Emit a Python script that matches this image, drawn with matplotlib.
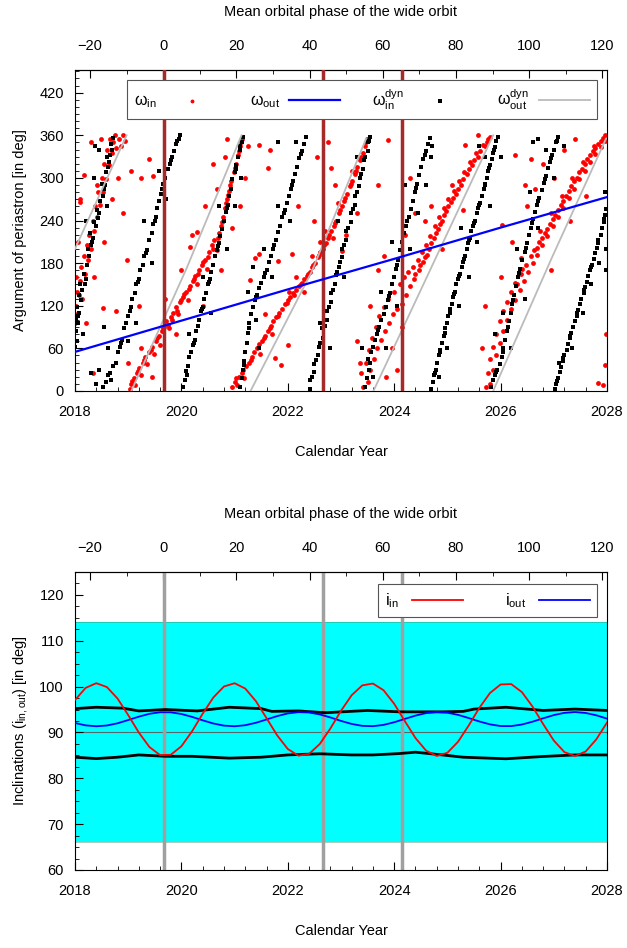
import numpy as np
import matplotlib
matplotlib.use("Agg")
import matplotlib.pyplot as plt
from matplotlib.ticker import MultipleLocator, FixedLocator

plt.rcParams['font.family'] = ['Liberation Sans', 'DejaVu Sans']
plt.rcParams['mathtext.fontset'] = 'custom'
plt.rcParams['mathtext.rm'] = 'Liberation Sans'
plt.rcParams['mathtext.it'] = 'Liberation Sans:italic'
plt.rcParams['font.size'] = 10.5

# ---------------- upper panel: arguments of periastron ----------------
# omega_in (red points), read band by band as (year, deg)
w_in_1 = [(2018.00, 95), (2018.01, 120), (2018.03, 140), (2018.02, 160), (2018.06, 110), (2018.08, 135),
          (2018.10, 155), (2018.12, 175), (2018.14, 130), (2018.17, 190), (2018.19, 165), (2018.22, 205),
          (2018.25, 185), (2018.27, 220), (2018.30, 200), (2018.33, 240), (2018.36, 225), (2018.38, 260),
          (2018.41, 245), (2018.44, 280), (2018.47, 262), (2018.50, 300), (2018.53, 280), (2018.55, 320),
          (2018.58, 298), (2018.60, 340), (2018.63, 318), (2018.66, 355), (2018.69, 335), (2018.72, 350),
          (2018.75, 360), (2018.78, 342), (2018.82, 355), (2018.86, 345), (2018.90, 360), (2018.94, 352),
          (2018.05, 210), (2018.10, 270), (2018.16, 304), (2018.20, 95), (2018.35, 160), (2018.55, 210),
          (2018.70, 270), (2018.80, 300), (2018.91, 250), (2018.97, 185), (2019.05, 310), (2019.25, 300),
          (2019.46, 302), (2019.40, 327), (2018.41, 290), (2018.09, 266), (2018.78, 112), (2018.53, 117),
          (2018.34, 25), (2018.30, 350), (2018.48, 355)]
w_in_2 = [(2019.03, 3), (2019.06, 10), (2019.10, 18), (2019.13, 8), (2019.16, 25), (2019.20, 32),
          (2019.24, 22), (2019.28, 40), (2019.32, 48), (2019.36, 38), (2019.40, 55), (2019.45, 62),
          (2019.48, 52), (2019.52, 70), (2019.57, 78), (2019.60, 65), (2019.64, 84), (2019.68, 90),
          (2019.72, 98), (2019.76, 88), (2019.80, 104), (2019.85, 110), (2019.90, 118), (2019.94, 108),
          (2019.98, 125), (2020.03, 132), (2020.08, 140), (2020.12, 128), (2020.16, 148), (2020.21, 155),
          (2020.26, 162), (2020.30, 150), (2020.34, 170), (2020.39, 178), (2020.44, 185), (2020.48, 172),
          (2020.52, 195), (2020.57, 205), (2020.62, 212), (2020.66, 198), (2020.70, 222), (2020.74, 232),
          (2020.78, 245), (2020.82, 258), (2020.86, 270), (2020.90, 282), (2020.94, 295), (2020.98, 308),
          (2021.02, 320), (2021.06, 332), (2021.10, 345), (2021.14, 355),
          (2019.08, 14), (2019.18, 28), (2019.30, 44), (2019.42, 58), (2019.55, 74), (2019.66, 88),
          (2019.74, 93), (2019.83, 100), (2019.92, 112), (2020.00, 128), (2020.05, 136), (2020.14, 144),
          (2020.24, 158), (2020.32, 165), (2020.41, 182), (2020.50, 188), (2020.60, 200), (2020.68, 215),
          (2020.76, 238), (2020.84, 264), (2020.88, 276), (2020.92, 290), (2021.00, 314), (2021.08, 338),
          (2021.12, 350),
          (2019.00, 40), (2019.25, 60), (2019.20, 120), (2019.45, 20), (2019.70, 130), (2019.90, 80),
          (2020.00, 170), (2020.20, 220), (2020.29, 224), (2020.16, 203), (2020.45, 260), (2020.66, 285),
          (2020.82, 330), (2020.85, 355), (2020.60, 320), (2020.95, 230), (2021.10, 260), (2021.29, 156),
          (2021.38, 187), (2021.20, 300), (2020.40, 120), (2020.75, 170), (2021.25, 345)]
w_in_3 = [(2020.95, 5), (2021.00, 12), (2021.05, 8), (2021.08, 20), (2021.13, 25), (2021.18, 18),
          (2021.22, 35), (2021.27, 40), (2021.32, 48), (2021.37, 55), (2021.42, 60), (2021.47, 52),
          (2021.52, 70), (2021.58, 78), (2021.63, 85), (2021.68, 92), (2021.73, 98), (2021.78, 104),
          (2021.84, 110), (2021.90, 115), (2021.95, 122), (2022.00, 128), (2022.05, 132), (2022.10, 138),
          (2022.16, 142), (2022.21, 148), (2022.26, 152), (2022.31, 158), (2022.36, 162), (2022.41, 168),
          (2022.46, 175), (2022.51, 180), (2022.56, 188), (2022.61, 195), (2022.66, 200), (2022.71, 208),
          (2022.76, 215), (2022.81, 225), (2022.86, 232), (2022.91, 240), (2022.96, 250), (2023.01, 260),
          (2023.06, 268), (2023.11, 278), (2023.16, 288), (2023.21, 296), (2023.26, 305), (2023.31, 315),
          (2023.36, 325), (2023.41, 335), (2023.45, 345), (2023.49, 355),
          (2021.03, 18), (2021.16, 30), (2021.30, 44), (2021.45, 66), (2021.55, 74), (2021.66, 88),
          (2021.82, 106), (2021.98, 124), (2022.12, 135), (2022.24, 150), (2022.38, 165), (2022.48, 178),
          (2022.58, 192), (2022.68, 205), (2022.78, 220), (2022.88, 236), (2022.98, 255), (2023.08, 272),
          (2023.18, 292), (2023.28, 310), (2023.38, 330), (2023.47, 350), (2022.03, 140), (2022.60, 210),
          (2022.85, 215),
          (2022.15, 160), (2022.45, 190), (2022.70, 225), (2022.95, 265), (2023.20, 310), (2021.70, 80),
          (2022.30, 140), (2021.45, 346), (2021.66, 339), (2021.63, 314), (2021.45, 193), (2021.82, 183),
          (2021.58, 108), (2022.07, 193), (2022.01, 65), (2021.76, 46), (2021.88, 37), (2022.82, 314),
          (2022.88, 290), (2023.01, 197), (2023.89, 353), (2023.70, 290), (2022.20, 260), (2022.50, 240),
          (2023.10, 220), (2023.30, 250), (2022.55, 330), (2022.75, 350)]
w_in_4 = [(2023.42, 5), (2023.50, 12), (2023.38, 25), (2023.55, 30), (2023.47, 40), (2023.62, 45),
          (2023.53, 58), (2023.68, 60), (2023.58, 75), (2023.75, 72), (2023.66, 90), (2023.82, 85),
          (2023.72, 105), (2023.90, 95), (2023.80, 118), (2023.98, 108), (2023.88, 130), (2024.06, 115),
          (2024.00, 140), (2024.14, 122), (2024.10, 150), (2024.22, 135), (2024.18, 160), (2024.30, 148),
          (2024.26, 168), (2024.38, 158), (2024.35, 175), (2024.46, 170), (2024.44, 185), (2024.54, 182),
          (2024.52, 195), (2024.62, 192), (2024.60, 205), (2024.70, 208), (2024.68, 218), (2024.78, 222),
          (2024.76, 232), (2024.86, 235), (2024.84, 245), (2024.94, 248), (2024.93, 258), (2025.02, 260),
          (2025.02, 270), (2025.10, 272), (2025.12, 282), (2025.20, 285), (2025.22, 295), (2025.30, 298),
          (2025.32, 308), (2025.40, 312), (2025.43, 322), (2025.50, 325), (2025.54, 335), (2025.62, 338),
          (2025.66, 346), (2025.74, 350), (2025.80, 358),
          (2024.58, 188), (2024.66, 200), (2024.74, 215), (2024.82, 228), (2024.90, 240), (2024.98, 254),
          (2025.06, 266), (2025.16, 278), (2025.26, 290), (2025.36, 305), (2025.46, 318), (2025.58, 330),
          (2025.70, 345), (2025.77, 355), (2024.48, 178), (2024.40, 165),
          (2023.30, 70), (2023.35, 40), (2023.55, 120), (2023.95, 60), (2024.05, 30), (2024.20, 220),
          (2024.40, 250), (2024.58, 240), (2024.70, 260), (2025.08, 290), (2025.58, 360), (2025.33, 346),
          (2026.27, 332), (2026.46, 290), (2026.58, 327), (2024.30, 300), (2024.90, 200), (2025.30, 255),
          (2023.85, 20), (2024.15, 90), (2023.80, 190), (2023.70, 170)]
w_in_5 = [(2025.72, 5), (2025.80, 10), (2025.76, 25), (2025.85, 30), (2025.80, 45), (2025.92, 50),
          (2025.86, 62), (2025.98, 68), (2025.92, 80), (2026.05, 85), (2025.98, 98), (2026.12, 100),
          (2026.05, 112), (2026.20, 115), (2026.12, 125), (2026.28, 128), (2026.20, 140), (2026.36, 142),
          (2026.28, 152), (2026.44, 155), (2026.38, 165), (2026.52, 168), (2026.48, 178), (2026.60, 180),
          (2026.58, 190), (2026.68, 192), (2026.68, 202), (2026.78, 205), (2026.78, 215), (2026.88, 218),
          (2026.88, 228), (2026.98, 232), (2026.98, 242), (2027.08, 245), (2027.08, 255), (2027.18, 258),
          (2027.18, 268), (2027.28, 272), (2027.28, 282), (2027.38, 285), (2027.38, 295), (2027.48, 298),
          (2027.48, 308), (2027.58, 310), (2027.58, 320), (2027.68, 322), (2027.68, 332), (2027.78, 333),
          (2027.78, 342), (2027.88, 343), (2027.88, 352), (2027.96, 352), (2027.97, 360),
          (2026.62, 198), (2026.72, 210), (2026.83, 222), (2026.93, 235), (2027.03, 248), (2027.13, 262),
          (2027.23, 275), (2027.33, 288), (2027.43, 300), (2027.53, 313), (2027.63, 326), (2027.73, 338),
          (2027.83, 348), (2027.92, 356), (2026.74, 225), (2026.95, 250), (2027.15, 275), (2027.35, 300),
          (2027.55, 322), (2027.75, 345), (2026.40, 172), (2026.30, 150),
          (2027.84, 11), (2027.96, 37), (2027.93, 8), (2026.02, 233), (2026.21, 210), (2026.39, 187),
          (2026.50, 260), (2026.65, 285), (2026.80, 320), (2027.00, 300), (2027.20, 340), (2027.40, 355),
          (2027.60, 275), (2025.65, 60), (2025.70, 120), (2026.00, 160), (2027.98, 80), (2026.95, 170),
          (2027.30, 240)]

# omega_in^dyn (black points)
w_dyn_1 = [(2018.00, 62), (2018.01, 85), (2018.03, 70), (2018.02, 100), (2018.05, 95), (2018.04, 118),
           (2018.08, 110), (2018.07, 135), (2018.11, 128), (2018.10, 150), (2018.14, 142), (2018.16, 165),
           (2018.20, 158), (2018.22, 178), (2018.26, 190), (2018.24, 200), (2018.30, 205), (2018.29, 222),
           (2018.34, 215), (2018.36, 238), (2018.40, 232), (2018.41, 255), (2018.45, 250), (2018.47, 268),
           (2018.52, 275), (2018.50, 292), (2018.56, 290), (2018.58, 308), (2018.62, 315), (2018.61, 330),
           (2018.66, 332), (2018.68, 348), (2018.72, 356), (2018.70, 340),
           (2018.06, 105), (2018.18, 150), (2018.32, 210), (2018.43, 244), (2018.54, 285), (2018.64, 322),
           (2018.20, 240), (2018.35, 300), (2018.15, 80), (2018.45, 340), (2018.60, 260), (2018.38, 345)]
w_dyn_2 = [(2018.52, 5), (2018.58, 12), (2018.62, 22), (2018.68, 15), (2018.72, 35), (2018.77, 40),
           (2018.80, 55), (2018.84, 62), (2018.88, 72), (2018.92, 88), (2018.96, 95), (2019.00, 105),
           (2019.05, 118), (2019.08, 130), (2019.12, 138), (2019.15, 150), (2019.20, 158), (2019.23, 170),
           (2019.27, 178), (2019.30, 190), (2019.36, 198), (2019.39, 212), (2019.44, 222), (2019.47, 235),
           (2019.52, 245), (2019.55, 258), (2019.58, 268), (2019.62, 278), (2019.65, 292), (2019.70, 300),
           (2019.74, 312), (2019.78, 320), (2019.82, 330), (2019.86, 338), (2019.90, 348), (2019.95, 355),
           (2019.98, 360),
           (2018.65, 25), (2018.86, 68), (2019.03, 112), (2019.18, 154), (2019.33, 194), (2019.50, 240),
           (2019.63, 284), (2019.80, 325), (2019.92, 352),
           (2018.45, 30), (2018.62, 60), (2019.00, 70), (2019.15, 95), (2019.30, 240), (2019.58, 310),
           (2019.72, 270), (2018.55, 90), (2019.45, 180), (2018.30, 25), (2018.40, 10)]
w_dyn_3 = [(2020.03, 5), (2020.06, 15), (2020.09, 28), (2020.12, 35), (2020.15, 48), (2020.18, 55),
           (2020.21, 65), (2020.25, 72), (2020.28, 85), (2020.31, 92), (2020.34, 100), (2020.37, 112),
           (2020.40, 118), (2020.43, 130), (2020.47, 138), (2020.50, 150), (2020.53, 158), (2020.56, 168),
           (2020.60, 178), (2020.63, 190), (2020.66, 198), (2020.70, 208), (2020.73, 218), (2020.77, 228),
           (2020.80, 240), (2020.83, 252), (2020.87, 262), (2020.90, 275), (2020.93, 285), (2020.96, 298),
           (2021.00, 308), (2021.03, 318), (2021.06, 330), (2021.10, 340), (2021.13, 350), (2021.16, 358),
           (2020.10, 22), (2020.23, 68), (2020.39, 115), (2020.52, 154), (2020.68, 204), (2020.85, 258),
           (2021.02, 312), (2021.11, 345),
           (2020.15, 80), (2020.40, 160), (2020.55, 110), (2020.85, 200), (2021.00, 260), (2020.70, 260),
           (2021.12, 300)]
w_dyn_4 = [(2021.10, 5), (2021.13, 18), (2021.15, 30), (2021.18, 42), (2021.20, 55), (2021.23, 68),
           (2021.25, 82), (2021.28, 95), (2021.30, 108), (2021.34, 118), (2021.38, 128), (2021.42, 135),
           (2021.46, 145), (2021.50, 152), (2021.55, 160), (2021.60, 170), (2021.64, 182), (2021.68, 190),
           (2021.72, 200), (2021.77, 212), (2021.82, 224), (2021.86, 232), (2021.90, 245), (2021.94, 255),
           (2021.98, 265), (2022.02, 275), (2022.06, 285), (2022.10, 296), (2022.14, 306), (2022.18, 316),
           (2022.22, 328), (2022.26, 338), (2022.30, 348), (2022.34, 358),
           (2021.17, 36), (2021.27, 88), (2021.40, 132), (2021.58, 166), (2021.75, 206), (2021.92, 250),
           (2022.08, 290), (2022.24, 334),
           (2021.25, 140), (2021.40, 100), (2021.55, 200), (2021.70, 160), (2021.82, 260), (2022.05, 240),
           (2022.15, 350), (2021.45, 60), (2021.35, 175), (2021.82, 350)]
w_dyn_5 = [(2022.41, 3), (2022.42, 15), (2022.50, 27), (2022.49, 38), (2022.57, 50), (2022.58, 62),
           (2022.66, 75), (2022.65, 88), (2022.73, 100), (2022.74, 112), (2022.81, 125), (2022.82, 138),
           (2022.89, 150), (2022.90, 163), (2022.97, 175), (2023.01, 188), (2023.02, 200), (2023.10, 213),
           (2023.10, 225), (2023.18, 238), (2023.19, 250), (2023.26, 262), (2023.27, 275), (2023.34, 288),
           (2023.35, 300), (2023.42, 312), (2023.43, 325), (2023.50, 338), (2023.51, 350), (2023.55, 358),
           (2022.45, 20), (2022.53, 44), (2022.61, 68), (2022.69, 92), (2022.77, 118), (2022.85, 142),
           (2022.93, 168), (2022.99, 182), (2023.06, 206), (2023.14, 230), (2023.22, 256), (2023.30, 280),
           (2023.38, 306), (2023.46, 330), (2023.53, 352),
           (2022.60, 95), (2023.05, 160), (2022.95, 240), (2023.30, 330), (2022.80, 60)]
w_dyn_6 = [(2023.45, 5), (2023.48, 18), (2023.52, 30), (2023.50, 45), (2023.56, 55), (2023.60, 62),
           (2023.63, 72), (2023.68, 80), (2023.72, 90), (2023.76, 100), (2023.80, 108), (2023.85, 118),
           (2023.88, 128), (2023.92, 138), (2023.95, 150), (2023.99, 160), (2024.03, 172), (2024.07, 185),
           (2024.10, 198), (2024.14, 210), (2024.18, 222), (2024.22, 232), (2024.27, 245), (2024.31, 256),
           (2024.35, 268), (2024.39, 280), (2024.43, 292), (2024.47, 304), (2024.51, 316), (2024.55, 326),
           (2024.59, 338), (2024.63, 348), (2024.67, 356), (2024.70, 330), (2024.72, 345),
           (2023.54, 40), (2023.70, 86), (2023.90, 134), (2024.05, 178), (2024.25, 240), (2024.41, 286),
           (2024.57, 332),
           (2023.40, 60), (2023.60, 20), (2023.75, 140), (2023.85, 60), (2024.05, 120), (2024.30, 200),
           (2024.45, 250), (2024.60, 290), (2024.20, 290), (2023.95, 210)]
w_dyn_7 = [(2024.70, 3), (2024.73, 12), (2024.75, 22), (2024.79, 30), (2024.81, 40), (2024.84, 50),
           (2024.87, 58), (2024.90, 68), (2024.93, 78), (2024.96, 88), (2024.99, 96), (2025.02, 105),
           (2025.05, 115), (2025.08, 122), (2025.11, 132), (2025.14, 140), (2025.17, 150), (2025.20, 158),
           (2025.24, 165), (2025.27, 175), (2025.30, 182), (2025.33, 190), (2025.36, 200), (2025.39, 208),
           (2025.42, 216), (2025.45, 225), (2025.49, 232), (2025.52, 240), (2025.55, 250), (2025.58, 258),
           (2025.62, 265), (2025.65, 275), (2025.68, 285), (2025.71, 292), (2025.74, 300), (2025.77, 310),
           (2025.80, 318), (2025.83, 326), (2025.86, 335), (2025.89, 343), (2025.92, 352), (2025.95, 358),
           (2024.77, 25), (2024.86, 55), (2024.95, 82), (2025.04, 110), (2025.13, 136), (2025.22, 162),
           (2025.31, 186), (2025.40, 212), (2025.50, 236), (2025.60, 262), (2025.70, 290), (2025.79, 314),
           (2025.88, 340),
           (2024.85, 20), (2025.00, 60), (2025.22, 120), (2025.40, 160), (2025.55, 210), (2025.70, 330),
           (2025.80, 260), (2025.60, 345), (2025.25, 230), (2026.00, 330)]
w_dyn_8 = [(2025.82, 5), (2025.86, 15), (2025.90, 22), (2025.94, 30), (2025.98, 38), (2026.02, 48),
           (2026.05, 60), (2026.08, 72), (2026.12, 85), (2026.15, 98), (2026.19, 110), (2026.22, 122),
           (2026.26, 135), (2026.29, 148), (2026.33, 160), (2026.37, 172), (2026.41, 185), (2026.45, 196),
           (2026.49, 208), (2026.53, 220), (2026.57, 230), (2026.61, 242), (2026.65, 252), (2026.69, 262),
           (2026.73, 272), (2026.77, 283), (2026.81, 293), (2026.85, 303), (2026.89, 314), (2026.93, 322),
           (2026.97, 332), (2027.01, 340), (2027.05, 350), (2027.08, 358),
           (2025.92, 26), (2026.04, 55), (2026.14, 90), (2026.24, 128), (2026.35, 166), (2026.47, 202),
           (2026.59, 236), (2026.71, 268), (2026.83, 298), (2026.95, 328), (2027.06, 352),
           (2025.90, 80), (2026.05, 110), (2026.20, 60), (2026.30, 200), (2026.45, 130), (2026.55, 280),
           (2026.70, 230), (2026.85, 340), (2027.00, 300), (2027.20, 345), (2026.60, 350), (2026.71, 355)]
w_dyn_9 = [(2027.02, 3), (2027.05, 10), (2027.08, 18), (2027.11, 26), (2027.14, 34), (2027.17, 42),
           (2027.20, 50), (2027.24, 58), (2027.27, 66), (2027.30, 74), (2027.33, 82), (2027.36, 90),
           (2027.40, 98), (2027.43, 106), (2027.46, 114), (2027.49, 122), (2027.52, 130), (2027.56, 138),
           (2027.59, 146), (2027.62, 154), (2027.65, 162), (2027.68, 170), (2027.72, 178), (2027.75, 186),
           (2027.78, 194), (2027.81, 202), (2027.84, 212), (2027.88, 220), (2027.91, 230), (2027.94, 238),
           (2027.97, 248), (2027.99, 256),
           (2027.06, 14), (2027.18, 46), (2027.31, 78), (2027.44, 110), (2027.57, 142), (2027.70, 174),
           (2027.83, 208), (2027.95, 242),
           (2027.10, 40), (2027.35, 60), (2027.55, 110), (2027.70, 150), (2027.85, 180), (2027.98, 200),
           (2027.96, 280), (2027.98, 170)]

# omega_out (blue line)
w_out_year = [2018, 2020, 2022, 2024, 2026, 2028]
w_out_deg = [55, 99, 143, 186, 230, 273]

# omega_out^dyn (gray saw-tooth), segments split by nan
w_out_dyn_year = [2018.00, 2018.97, np.nan, 2019.06, 2020.10, 2021.13, np.nan, 2021.30, 2022.45, 2023.47,
                  np.nan, 2023.61, 2024.58, 2025.86, np.nan, 2025.86, 2026.96, 2027.98]
w_out_dyn_deg = [200, 360, np.nan, 0, 173, 360, np.nan, 0, 168, 355, np.nan, 0, 155, 360, np.nan, 0, 187, 355]

# epochs marked with vertical lines
mark_years = [2019.67, 2022.66, 2024.15]

# ---------------- lower panel: inclinations ----------------
inc_year = [2018.0, 2018.2, 2018.4, 2018.6, 2018.8, 2019.0, 2019.2, 2019.4, 2019.6, 2019.8,
            2020.0, 2020.2, 2020.4, 2020.6, 2020.8, 2021.0, 2021.2, 2021.4, 2021.6, 2021.8,
            2022.0, 2022.2, 2022.4, 2022.6, 2022.8, 2023.0, 2023.2, 2023.4, 2023.6, 2023.8,
            2024.0, 2024.2, 2024.4, 2024.6, 2024.8, 2025.0, 2025.2, 2025.4, 2025.6, 2025.8,
            2026.0, 2026.2, 2026.4, 2026.6, 2026.8, 2027.0, 2027.2, 2027.4, 2027.6, 2027.8, 2028.0]
i_in = [97.07, 99.72, 100.75, 99.90, 97.40, 93.79, 89.98, 86.81, 85.06, 85.13,
        86.99, 90.24, 94.09, 97.62, 100.03, 100.74, 99.58, 96.84, 93.13, 89.37,
        86.39, 84.93, 85.32, 87.47, 90.86, 94.72, 98.12, 100.27, 100.67, 99.21,
        96.25, 92.48, 88.78, 86.03, 84.87, 85.57, 87.97, 91.51, 95.35, 98.60,
        100.47, 100.55, 98.81, 95.65, 91.83, 88.23, 85.71, 84.85, 85.86, 88.51, 92.16]
i_out = [92.07, 91.55, 91.35, 91.52, 92.00, 92.71, 93.45, 94.07, 94.41, 94.40,
         94.03, 93.40, 92.65, 91.96, 91.49, 91.35, 91.58, 92.11, 92.83, 93.57,
         94.15, 94.43, 94.36, 93.94, 93.28, 92.52, 91.86, 91.44, 91.37, 91.65,
         92.23, 92.96, 93.68, 94.22, 94.45, 94.31, 93.84, 93.15, 92.40, 91.77,
         91.40, 91.39, 91.73, 92.35, 93.09, 93.79, 94.28, 94.45, 94.25, 93.74, 93.02]

# black envelope curves
upper_year = [2018.0, 2018.4, 2018.9, 2019.2, 2019.7, 2020.3, 2020.9, 2021.5, 2021.7, 2022.2,
              2022.7, 2023.5, 2024.1, 2024.9, 2025.3, 2025.5, 2026.1, 2026.8, 2027.4, 2028.0]
upper_deg = [95.2, 95.5, 95.3, 94.7, 95.0, 94.7, 95.5, 95.2, 94.6, 94.7,
             94.3, 94.8, 94.5, 94.5, 94.6, 95.1, 95.5, 94.8, 95.1, 94.8]
lower_year = [2018.0, 2018.4, 2018.8, 2019.2, 2019.7, 2020.2, 2020.9, 2021.5, 2022.0, 2022.6,
              2023.2, 2023.6, 2024.1, 2024.4, 2024.9, 2025.3, 2026.1, 2026.8, 2027.4, 2028.0]
lower_deg = [84.6, 84.3, 84.6, 85.1, 84.8, 84.8, 84.4, 84.6, 85.1, 85.35,
             85.1, 85.1, 85.4, 85.7, 85.1, 84.6, 84.26, 84.76, 85.1, 85.1]

band_low, band_high = 66, 114

phase_ticks = [-20, 0, 20, 40, 60, 80, 100, 120]
phase_minor = [-30, -10, 10, 30, 50, 70, 90, 110]

# year <-> mean orbital phase of the wide orbit
phase_zero, phase_rate = 2019.66, 14.54


def year_to_phase(x):
    return (x - phase_zero) * phase_rate


def phase_to_year(p):
    return p / phase_rate + phase_zero


def style_axes(ax, ylabelpad):
    ax.set_xlim(2018, 2028)
    ax.xaxis.set_major_locator(MultipleLocator(2))
    ax.xaxis.set_minor_locator(MultipleLocator(0.4))
    ax.tick_params(which='both', direction='in', top=False, right=False)
    ax.tick_params(which='major', length=6)
    ax.tick_params(which='minor', length=3)
    ax.tick_params(axis='x', pad=10)
    ax.tick_params(axis='y', pad=8)
    ax.set_xlabel('Calendar Year', labelpad=19)
    ax.yaxis.labelpad = ylabelpad
    sec = ax.secondary_xaxis('top', functions=(year_to_phase, phase_to_year))
    sec.xaxis.set_major_locator(FixedLocator(phase_ticks))
    sec.xaxis.set_minor_locator(FixedLocator(phase_minor))
    sec.tick_params(which='both', direction='in')
    sec.tick_params(which='major', length=6, pad=12)
    sec.tick_params(which='minor', length=3)
    sec.set_xlabel('Mean orbital phase of the wide orbit', labelpad=17)


fig = plt.figure(figsize=(6.27, 9.48), dpi=100)

# upper panel
ax1 = fig.add_axes([0.1196, 0.5876, 0.8485, 0.3386])
red = np.array(w_in_1 + w_in_2 + w_in_3 + w_in_4 + w_in_5)
black = np.array(w_dyn_1 + w_dyn_2 + w_dyn_3 + w_dyn_4 + w_dyn_5 + w_dyn_6 + w_dyn_7 + w_dyn_8 + w_dyn_9)

h1 = ax1.scatter(red[:, 0], red[:, 1], s=12, color='red', marker='o', linewidths=0, zorder=2,
                 label='ω$_{\\mathrm{in}}$')
for yr in mark_years:
    ax1.axvline(yr, color='#a52a2a', lw=2.5, zorder=4)
h2, = ax1.plot(w_out_year, w_out_deg, color='blue', lw=1.6, zorder=5, label='ω$_{\\mathrm{out}}$')
h3 = ax1.scatter(black[:, 0], black[:, 1], s=8, color='black', marker='s', linewidths=0, zorder=3,
                 label='ω$_{\\mathrm{in}}^{\\mathrm{dyn}}$')
h4, = ax1.plot(w_out_dyn_year, w_out_dyn_deg, color='#bbbbbb', lw=1.3, zorder=3.5,
               label='ω$_{\\mathrm{out}}^{\\mathrm{dyn}}$')

ax1.set_ylim(0, 452)
ax1.yaxis.set_major_locator(MultipleLocator(60))
ax1.yaxis.set_minor_locator(MultipleLocator(10))
ax1.set_ylabel('Argument of periastron [in deg]')
style_axes(ax1, 9)
leg1 = ax1.legend(handles=[h1, h2, h3, h4], loc='upper right', bbox_to_anchor=(0.981, 0.969), ncol=4,
                  markerfirst=False, frameon=True, fancybox=False, edgecolor='#555555', framealpha=1,
                  handlelength=3.2, columnspacing=2.0, handletextpad=0.6, borderpad=0.45,
                  borderaxespad=0, markerscale=0.8, fontsize=11.5)
leg1.get_frame().set_linewidth(0.8)
leg1.set_zorder(10)

# lower panel
ax2 = fig.add_axes([0.1196, 0.0823, 0.8485, 0.3143])
ax2.axhspan(band_low, band_high, facecolor='cyan', edgecolor='none', zorder=0)
ax2.axhline(band_high, color='#3a8a5a', lw=0.6, alpha=0.5, zorder=0.5)
ax2.axhline(band_low, color='#3a8a5a', lw=0.6, alpha=0.5, zorder=0.5)
ax2.axhline(90, color='#556b6b', lw=0.8, zorder=1)
for yr in mark_years:
    ax2.axvline(yr, color='#a0a0a0', lw=2.5, zorder=1.5)
ax2.plot(upper_year, upper_deg, color='black', lw=2, zorder=2)
ax2.plot(lower_year, lower_deg, color='black', lw=2, zorder=2)
ax2.plot(inc_year, i_out, color='blue', lw=1.3, zorder=3, label='i$_{\\mathrm{out}}$')
ax2.plot(inc_year, i_in, color='red', lw=1.3, zorder=4, label='i$_{\\mathrm{in}}$')
handles, labels = ax2.get_legend_handles_labels()
ax2.set_ylim(60, 125)
ax2.yaxis.set_major_locator(MultipleLocator(10))
ax2.yaxis.set_minor_locator(MultipleLocator(2.5))
ax2.set_ylabel('Inclinations (i$_{\\mathrm{in,out}}$) [in deg]')
style_axes(ax2, 7)
leg2 = ax2.legend(handles=[handles[1], handles[0]], labels=[labels[1], labels[0]], loc='upper right',
                  bbox_to_anchor=(0.981, 0.96), ncol=2, markerfirst=False, frameon=True, fancybox=False,
                  edgecolor='#555555', framealpha=1, handlelength=3.2, columnspacing=2.6,
                  handletextpad=0.8, borderpad=0.45, borderaxespad=0, fontsize=11.5)
leg2.get_frame().set_linewidth(0.8)

fig.savefig('out.png', dpi=100)
